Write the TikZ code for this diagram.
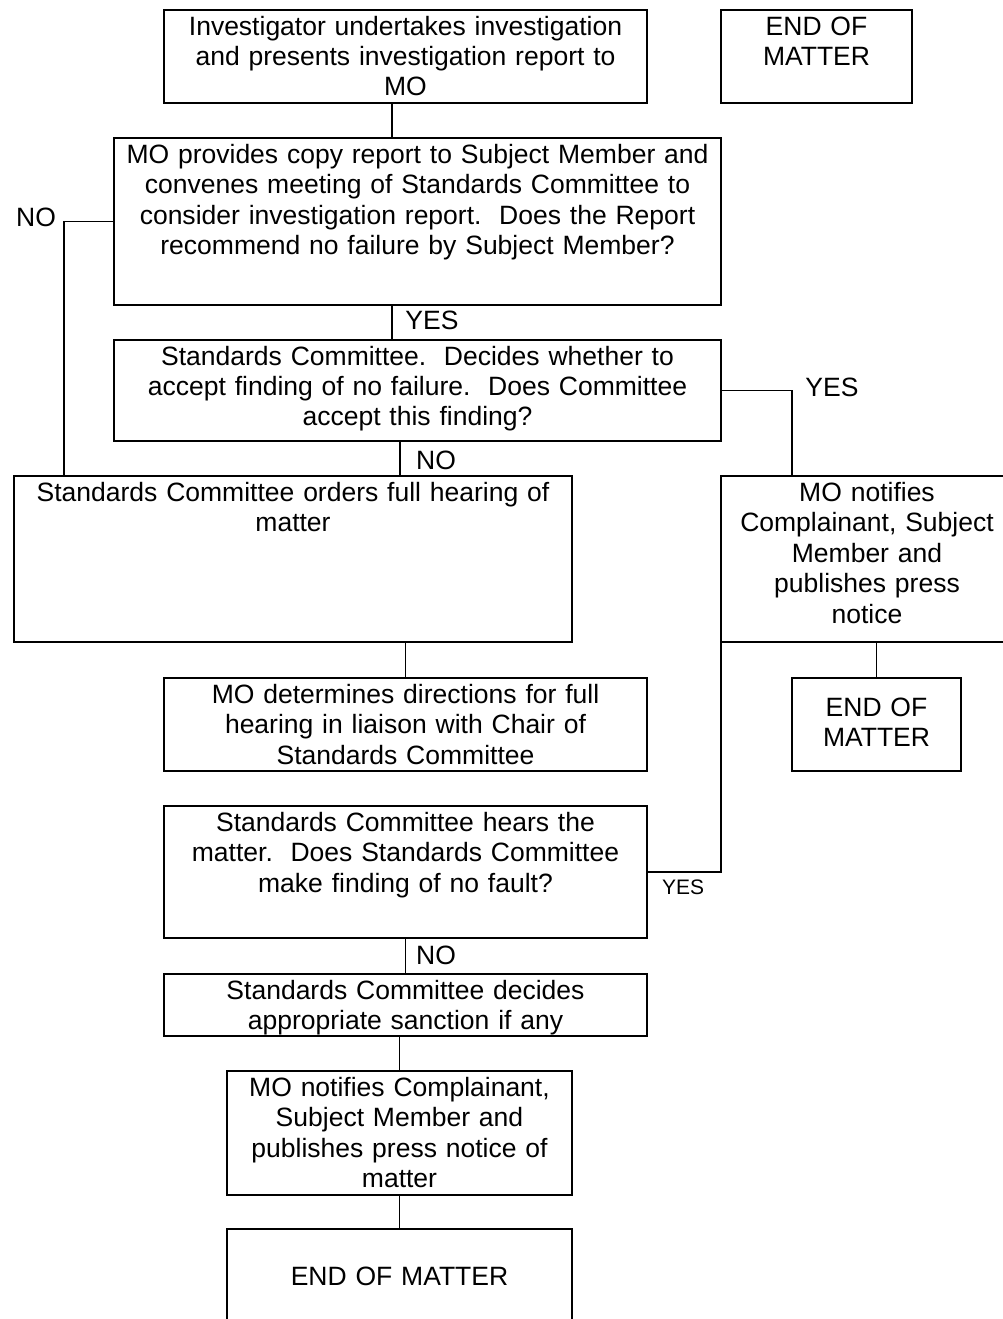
\documentclass[tikz,border=0pt]{standalone}
\usepackage{fontspec}
\setmainfont{Liberation Sans}
\newlength\pxu
\setlength\pxu{0.4527pt}

\begin{document}
\begin{tikzpicture}[
    x=0.4527pt, y=-0.4527pt,
    box/.style n args={3}{draw, line width=0.9pt, inner sep=0pt, outer sep=0pt,
                 anchor=north west, align=center,
                 font=\fontsize{12}{13.8}\selectfont,
                 text width=(#1-4)*\pxu, minimum width=#1*\pxu,
                 text height=#3*\pxu, text depth=(#2-#3)*\pxu},
    link/.style={line width=0.6pt},
    lbl/.style={inner sep=0pt, font=\fontsize{12}{13.8}\selectfont}
  ]
  \useasboundingbox (0,0) rectangle (1003,1319);
  \clip (0,0) rectangle (1003,1319);

  % boxes, placed by their top left corner
  \node[box={483}{93}{25}] (inv) at (164,10)
    {Investigator undertakes investigation\\and presents investigation report to\\MO};
  \node[box={191}{93}{25}] (endA) at (721,10) {END OF\\MATTER};
  \node[box={607}{167}{25.5}] (prov) at (114,138)
    {MO provides copy report to Subject Member and\\convenes meeting of Standards Committee to\\consider investigation report.\ \ Does the Report\\recommend no failure by Subject Member?};
  \node[box={607}{101}{25}] (acc) at (114,340)
    {Standards Committee.\ \ Decides whether to\\accept finding of no failure.\ \ Does Committee\\accept this finding?};
  \node[box={558}{166}{25.5}] (ord) at (14,476)
    {Standards Committee orders full hearing of\\matter};
  \node[box={292}{166}{25.5}] (notA) at (721,476)
    {MO notifies\\Complainant, Subject\\Member and\\publishes press\\notice};
  \node[box={483}{93}{25.5}] (dir) at (164,678)
    {MO determines directions for full\\hearing in liaison with Chair of\\Standards Committee};
  \node[box={169}{93}{38.5}] (endB) at (792,678) {END OF\\MATTER};
  \node[box={483}{132}{25.5}] (hear) at (164,806)
    {Standards Committee hears the\\matter.\ \ Does Standards Committee\\make finding of no fault?};
  \node[box={483}{62}{25.5}] (sanc) at (164,974)
    {Standards Committee decides\\appropriate sanction if any};
  \node[box={345}{124}{25.5}] (notB) at (227,1071)
    {MO notifies Complainant,\\Subject Member and\\publishes press notice of\\matter};
  \node[box={345}{100}{56.5}] (endC) at (227,1229) {END OF MATTER};

  % x positions of the off-centre connectors
  \coordinate (xa) at (392,0);
  \coordinate (xb) at (400,0);
  \coordinate (xno) at (64,0);
  \coordinate (xyes) at (792,0);

  \draw[link] (inv.south -| xa) -- (prov.north -| xa);
  \draw[link] (prov.south -| xa) -- (acc.north -| xa);
  \draw[link] (prov.west) -| (ord.north -| xno);
  \draw[link] (acc.east) -| (notA.north -| xyes);
  \draw[link] (acc.south -| xb) -- (ord.north -| xb);
  \draw[link] (ord.south -| dir.north) -- (dir.north);
  \draw[link] (notA.south -| endB.north) -- (endB.north);
  \draw[link] (notA.south west) |- (hear.east);
  \draw[link] (hear.south) -- (sanc.north);
  \draw[link] (sanc.south -| notB.north) -- (notB.north);
  \draw[link] (notB.south) -- (endC.north);

  % answers
  \node[lbl] (noA) at (36,217) {NO};
  \node[lbl] (yesA) at (432,320) {YES};
  \node[lbl] (yesB) at (832,387) {YES};
  \node[lbl] (noB) at (436,460) {NO};
  \node[lbl, font=\fontsize{9.5}{11}\selectfont] (yesC) at (683,887) {YES};
  \node[lbl] (noC) at (436,955) {NO};
\end{tikzpicture}
\end{document}
